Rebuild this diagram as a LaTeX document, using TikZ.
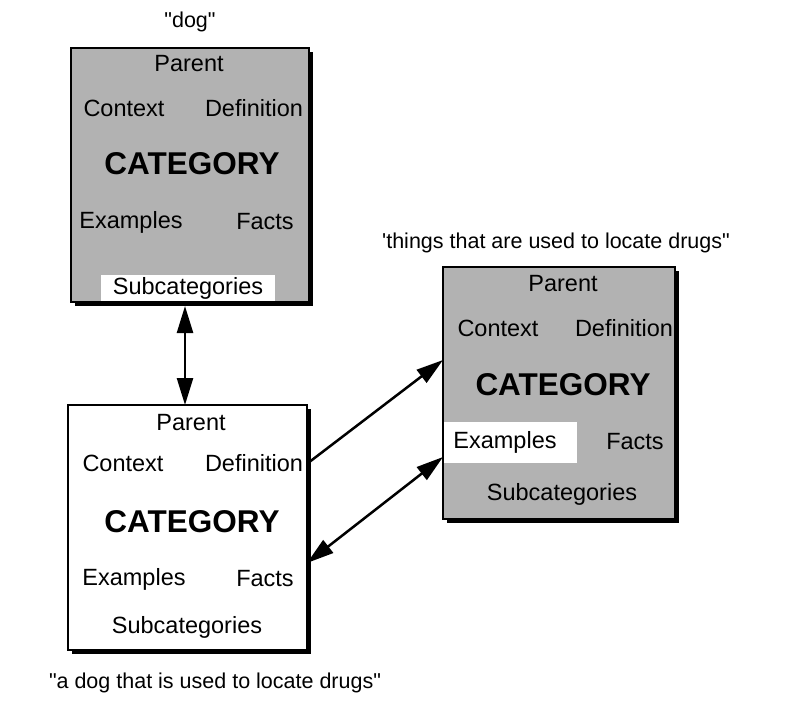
\documentclass[tikz,border=0pt]{standalone}
\usepackage{fontspec}
\setmainfont{Liberation Sans}
\usetikzlibrary{arrows.meta,shadows}
\begin{document}
\begin{tikzpicture}[x=1pt,y=-1pt,
  catbox/.style={draw=black,line width=2pt,drop shadow={shadow xshift=4pt,shadow yshift=-4pt,fill=black,opacity=1},inner sep=0pt},
  shaded/.style={catbox,fill=black!30},
  plain/.style={catbox,fill=white},
  lbl/.style={font=\fontsize{23.5}{28}\selectfont,inner sep=0pt},
  cat/.style={font=\fontsize{31.5}{36}\selectfont\bfseries,inner sep=0pt},
  caption/.style={font=\fontsize{21.5}{26}\selectfont,inner sep=0pt},
  patch/.style={fill=white,draw=none},
  link/.style={line width=2.5pt,-{Triangle[length=27pt,width=16pt]}},
  dlink/.style={line width=2.5pt,{Triangle[length=27pt,width=16pt]}-{Triangle[length=27pt,width=16pt]}}]
\useasboundingbox (0,0) rectangle (795,701);
% boxes
\node[shaded,minimum width=238pt,minimum height=254pt] (dog) at (190,175) {};
\node[plain,minimum width=239pt,minimum height=245pt] (combo) at (187.5,527.5) {};
\node[shaded,minimum width=232pt,minimum height=252pt] (things) at (559,393) {};
% white patches
\fill[patch] (101,275) rectangle (275,301);
\fill[patch] (444,422) rectangle (577,463);
% captions
\node[caption] (c1) at (190,22) {\textquotedbl dog\textquotedbl};
\node[caption] (c2) at (556,243) {\textquotesingle things that are used to locate drugs\textquotedbl};
\node[caption] (c3) at (215,683) {\textquotedbl a dog that is used to locate drugs\textquotedbl};
% dog box text
\node[lbl] (p1) at (189,64) {Parent};
\node[lbl] (x1) at (124,108) {Context};
\node[lbl] (d1) at (254,108) {Definition};
\node[cat] (k1) at (192,164) {CATEGORY};
\node[lbl] (e1) at (131,222) {Examples};
\node[lbl] (f1) at (265,222) {Facts};
\node[lbl] (s1) at (188,288) {Subcategories};
% combo box text
\node[lbl] (p2) at (191,423) {Parent};
\node[lbl] (x2) at (123,463) {Context};
\node[lbl] (d2) at (254,463) {Definition};
\node[cat] (k2) at (192,522) {CATEGORY};
\node[lbl] (e2) at (134,579) {Examples};
\node[lbl] (f2) at (265,579) {Facts};
\node[lbl] (s2) at (187,627) {Subcategories};
% things box text
\node[lbl] (p3) at (563,284) {Parent};
\node[lbl] (x3) at (498,328) {Context};
\node[lbl] (d3) at (624,328) {Definition};
\node[cat] (k3) at (563,385) {CATEGORY};
\node[lbl] (e3) at (505,442) {Examples};
\node[lbl] (f3) at (635,442) {Facts};
\node[lbl] (s3) at (562,494) {Subcategories};
% connector end points
\coordinate (v1) at (185,306);
\coordinate (v2) at (185,405);
\coordinate (a1) at (combo.east |- d2);
\coordinate (a2) at (443,360);
\coordinate (b1) at (443,457);
\coordinate (b2) at (307,563);
% connectors
\draw[dlink] (v1) -- (v2);
\draw[link] (a1) -- (a2);
\draw[dlink] (b1) -- (b2);
\end{tikzpicture}
\end{document}
